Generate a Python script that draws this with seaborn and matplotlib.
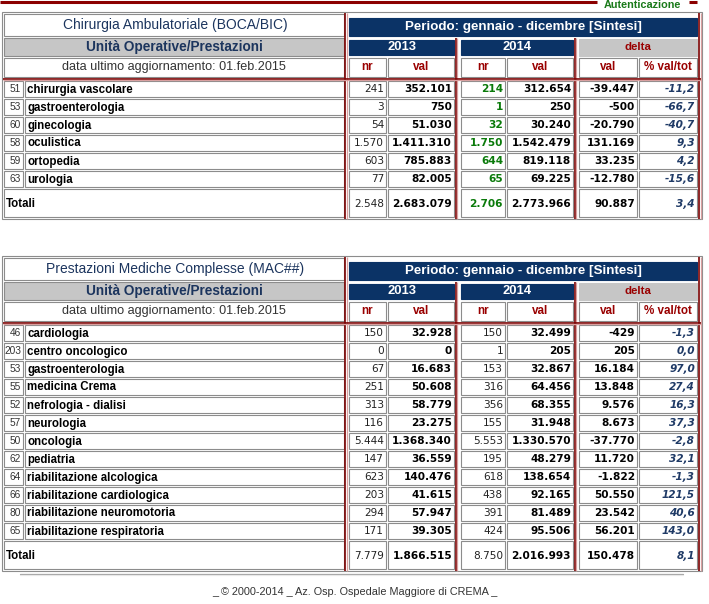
import matplotlib
matplotlib.use("Agg")
import matplotlib.pyplot as plt
import matplotlib.patches as mpatches
import seaborn as sns

# ---- data ----
title_1 = "Chirurgia Ambulatoriale (BOCA/BIC)"
codes_1 = [51, 53, 60, 58, 59, 63]
names_1 = ["chirurgia vascolare", "gastroenterologia", "ginecologia",
           "oculistica", "ortopedia", "urologia"]
nr13_1 = [241, 3, 54, 1570, 603, 77]
val13_1 = [352101, 750, 51030, 1411310, 785883, 82005]
nr14_1 = [214, 1, 32, 1750, 644, 65]
val14_1 = [312654, 250, 30240, 1542479, 819118, 69225]
dval_1 = [-39447, -500, -20790, 131169, 33235, -12780]
pct_1 = [-11.2, -66.7, -40.7, 9.3, 4.2, -15.6]
tot_1 = [2548, 2683079, 2706, 2773966, 90887, 3.4]

title_2 = "Prestazioni Mediche Complesse (MAC##)"
codes_2 = [46, 203, 53, 55, 52, 57, 50, 62, 64, 66, 80, 65]
names_2 = ["cardiologia", "centro oncologico", "gastroenterologia",
           "medicina Crema", "nefrologia - dialisi", "neurologia", "oncologia",
           "pediatria", "riabilitazione alcologica", "riabilitazione cardiologica",
           "riabilitazione neuromotoria", "riabilitazione respiratoria"]
nr13_2 = [150, 0, 67, 251, 313, 116, 5444, 147, 623, 203, 294, 171]
val13_2 = [32928, 0, 16683, 50608, 58779, 23275, 1368340, 36559, 140476,
           41615, 57947, 39305]
nr14_2 = [150, 1, 153, 316, 356, 155, 5553, 195, 618, 438, 391, 424]
val14_2 = [32499, 205, 32867, 64456, 68355, 31948, 1330570, 48279, 138654,
           92165, 81489, 95506]
dval_2 = [-429, 205, 16184, 13848, 9576, 8673, -37770, 11720, -1822,
          50550, 23542, 56201]
pct_2 = [-1.3, 0.0, 97.0, 27.4, 16.3, 37.3, -2.8, 32.1, -1.3, 121.5, 40.6, 143.0]
tot_2 = [7779, 1866515, 8750, 2016993, 150478, 8.1]

years = ["2013", "2014"]
periodo = "Periodo: gennaio - dicembre [Sintesi]"
data_agg = "data ultimo aggiornamento: 01.feb.2015"
footer = "_ \u00a9 2000-2014 _ Az. Osp. Ospedale Maggiore di CREMA _"

# ---- style ----
sns.set_theme(style="white")
plt.rcParams["font.family"] = ["Liberation Sans", "DejaVu Sans"]
NUMFONT = ["DejaVu Sans"]

NAVY = "#0b3366"
GRAY = "#c6c6c6"
BORDER = "#8c8c8c"
DRED = "#7a0000"
LRED = "#d9a0a0"
HRED = "#990000"
GREEN = "#0a7a0a"
PCT = "#1f3a66"
TXT = "#222222"
FS = 8.3
NFS = 7.6


def fmt_int(v):
    s = f"{abs(v):,}".replace(",", ".")
    return "-" + s if v < 0 else s


def fmt_pct(v):
    return f"{v:.1f}".replace(".", ",")


fig = plt.figure(figsize=(7.09, 6.04), dpi=100)
ax = fig.add_axes([0, 0, 1, 1])
ax.set_xlim(0, 709)
ax.set_ylim(604, 0)
ax.axis("off")


def box(x0, x1, y0, y1, fc="white", ec=BORDER, lw=0.8):
    ax.add_patch(mpatches.Rectangle((x0, y0), x1 - x0, y1 - y0, facecolor=fc,
                                    edgecolor=ec, lw=lw))


def vred(x, y0, y1):
    ax.plot([x, x], [y0, y1], color=DRED, lw=1.2, solid_capstyle="butt")
    ax.plot([x + 1.6, x + 1.6], [y0, y1], color=LRED, lw=0.9, solid_capstyle="butt")


def hred(y, x0, x1):
    ax.plot([x0, x1], [y, y], color=DRED, lw=1.2, solid_capstyle="butt")
    ax.plot([x0, x1], [y + 1.6, y + 1.6], color=LRED, lw=0.9, solid_capstyle="butt")


# columns (left, right)
C_CODE = (4, 23)
C_NAME = (25, 344)
C_NUM = [(349, 386), (388, 454), (461, 505), (507, 573), (579, 637), (639, 697)]


def num_cells(a, b, c, d, e, f, green14):
    return [
        (fmt_int(a), "normal", "normal", TXT),
        (fmt_int(b), "bold", "normal", "black"),
        (fmt_int(c), "bold" if green14 else "normal", "normal",
         GREEN if green14 else TXT),
        (fmt_int(d), "bold", "normal", "black"),
        (fmt_int(e), "bold", "normal", "black"),
        (fmt_pct(f), "bold", "italic", PCT),
    ]


def draw_table(oy, title, codes, names, nr13, val13, nr14, val14, dval, pct, tot,
               green14):
    n = len(codes)
    ybot = oy + 81 + 18 * n + 30
    # outer frame
    box(2, 702, oy + 12, ybot, fc="white", ec=BORDER, lw=0.8)
    # title row
    box(4, 344, oy + 14, oy + 36)
    ax.text(175, oy + 25, title, ha="center", va="center", fontsize=10,
            color="#1c355e")
    box(349, 697, oy + 18, oy + 36, fc=NAVY, ec=NAVY)
    ax.text(523, oy + 27, periodo, ha="center", va="center", fontsize=9.6,
            color="white", fontweight="bold")
    # group row
    box(4, 344, oy + 38, oy + 56, fc=GRAY, ec=BORDER)
    ax.text(174, oy + 47, "Unità Operative/Prestazioni", ha="center", va="center",
            fontsize=9.8, color="#1c355e", fontweight="bold")
    for (a, b), yr in zip([(349, 454), (461, 573)], years):
        box(a, b, oy + 40, oy + 55, fc=NAVY, ec=NAVY)
        ax.text((a + b) / 2, oy + 47.5, yr, ha="center", va="center",
                fontsize=9.4, color="white", fontweight="bold")
    box(579, 697, oy + 39, oy + 56, fc=GRAY, ec=GRAY)
    ax.text(638, oy + 47.5, "delta", ha="center", va="center", fontsize=8.2,
            color=HRED, fontweight="bold")
    # sub header row
    box(4, 344, oy + 58, oy + 77)
    ax.text(174, oy + 67, data_agg, ha="center", va="center", fontsize=9.1,
            color="#333333")
    for (a, b), lab in zip(C_NUM, ["nr", "val", "nr", "val", "val", "% val/tot"]):
        box(a, b, oy + 58, oy + 77)
        ax.text((a + b) / 2, oy + 67.5, lab, ha="center", va="center",
                fontsize=8.4, color=HRED, fontweight="bold")
    # data rows
    for i in range(n):
        y0 = oy + 81 + 18 * i
        y1 = y0 + 16
        yc = (y0 + y1) / 2 + 0.5
        box(*C_CODE, y0, y1)
        box(*C_NAME, y0, y1)
        ax.text(C_CODE[1] - 2, yc, str(codes[i]), ha="right", va="center",
                fontsize=7.3, color="#333333")
        ax.text(C_NAME[0] + 2, yc, names[i], ha="left", va="center",
                fontsize=FS, color="black", fontweight="bold")
        cells = num_cells(nr13[i], val13[i], nr14[i], val14[i], dval[i], pct[i],
                          green14)
        for (a, b), (s, w, st, c) in zip(C_NUM, cells):
            box(a, b, y0, y1)
            ax.text(b - 2, yc, s, ha="right", va="center", fontsize=NFS,
                    fontweight=w, fontstyle=st, color=c, family=NUMFONT)
    # totals row
    y0 = oy + 81 + 18 * n
    y1 = y0 + 28
    yc = (y0 + y1) / 2 + 1
    box(4, 344, y0, y1)
    ax.text(6, yc, "Totali", ha="left", va="center", fontsize=FS,
            fontweight="bold", color="black")
    tcells = num_cells(*tot, green14)
    for (a, b), (s, w, st, c) in zip(C_NUM, tcells):
        box(a, b, y0, y1)
        ax.text(b - 2, yc, s, ha="right", va="center", fontsize=NFS,
                fontweight=w, fontstyle=st, color=c, family=NUMFONT)
    # red separators
    vred(345, oy + 13, ybot)
    vred(455.5, oy + 38, ybot)
    vred(574.5, oy + 38, ybot)
    vred(699, oy + 13, ybot)
    hred(oy + 78.5, 3, 701)


# page header
ax.plot([0, 597], [2, 2], color="#8b0000", lw=2.2, solid_capstyle="butt")
ax.plot([689, 697], [2, 2], color="#8b0000", lw=2.2, solid_capstyle="butt")
ax.text(604, 4.5, "Autenticazione", ha="left", va="center", fontsize=7.8,
        color="#1a7a1a", fontweight="bold")

draw_table(0, title_1, codes_1, names_1, nr13_1, val13_1, nr14_1, val14_1,
           dval_1, pct_1, tot_1, True)
draw_table(244, title_2, codes_2, names_2, nr13_2, val13_2, nr14_2, val14_2,
           dval_2, pct_2, tot_2, False)

# footer
ax.plot([20, 683], [573.5, 573.5], color="#a0a0a0", lw=0.9)
ax.plot([20, 683], [575, 575], color="#e8e8e8", lw=0.9)
ax.text(355, 592, footer, ha="center", va="center", fontsize=7.8, color="#333333")

fig.savefig("out.png", dpi=100)
